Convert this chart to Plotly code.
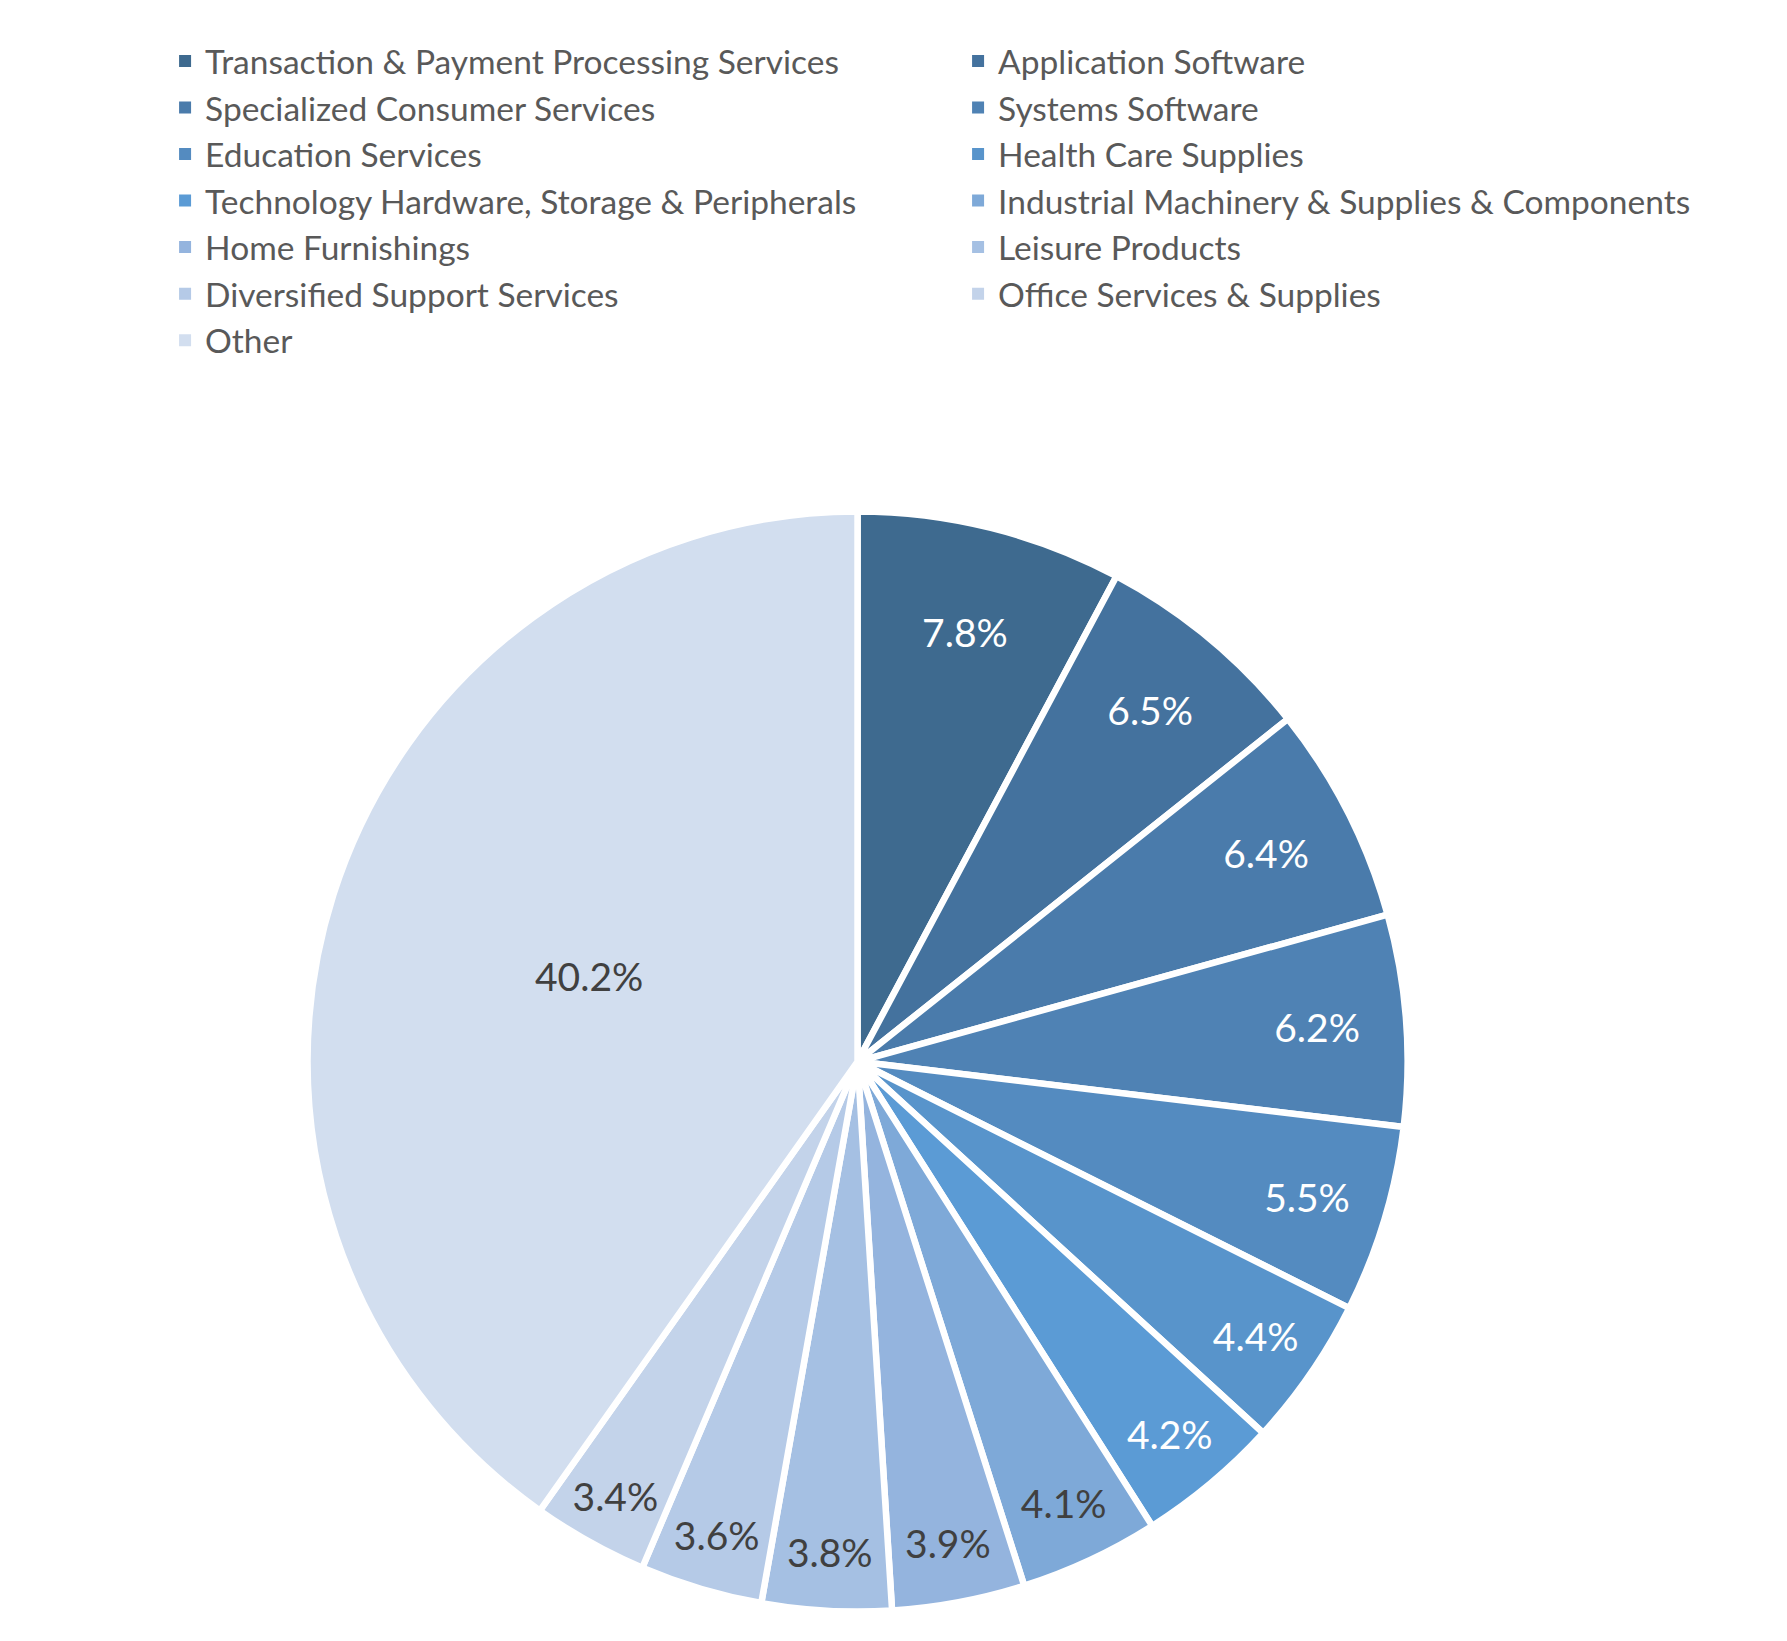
import plotly.graph_objects as go

# --- data ---
sectors = [
    "Transaction & Payment Processing Services",
    "Application Software",
    "Specialized Consumer Services",
    "Systems Software",
    "Education Services",
    "Health Care Supplies",
    "Technology Hardware, Storage & Peripherals",
    "Industrial Machinery & Supplies & Components",
    "Home Furnishings",
    "Leisure Products",
    "Diversified Support Services",
    "Office Services & Supplies",
    "Other",
]
weights = [7.8, 6.5, 6.4, 6.2, 5.5, 4.4, 4.2, 4.1, 3.9, 3.8, 3.6, 3.4, 40.2]

# blue shades, dark -> light
slice_colors = [
    "#3E6A8F", "#44729E", "#4A7BAB", "#4F82B4", "#548BC0", "#5894CB",
    "#5B9BD5", "#7EA9D8", "#94B4DE", "#A5C0E3", "#B5CAE7", "#C3D3EA",
    "#D2DEEF",
]
label_colors = ["white"] * 7 + ["#404040"] * 6

W, H = 1787, 1641


def main():
    fig = go.Figure()
    fig.add_trace(go.Pie(
        labels=sectors,
        values=weights,
        sort=False,
        direction="clockwise",
        rotation=0,
        marker=dict(colors=slice_colors, line=dict(color="white", width=6.5)),
        texttemplate="%{percent:.1%}",
        textposition="inside",
        insidetextorientation="horizontal",
        textfont=dict(family="Lato", size=39, color=label_colors),
        domain=dict(x=[0.1676, 0.7832], y=[0.0228, 0.6932]),
        hoverinfo="label+percent",
        showlegend=False,
    ))

    # legend entries (pie legend squares are tiny, so use square markers)
    for name, col in zip(sectors, slice_colors):
        fig.add_trace(go.Scatter(
            x=[None], y=[None], mode="markers", name=name,
            marker=dict(symbol="square", size=12, color=col),
            hoverinfo="skip",
        ))

    fig.update_layout(
        width=W, height=H,
        margin=dict(l=0, r=0, t=0, b=0),
        paper_bgcolor="white",
        plot_bgcolor="white",
        font=dict(family="Lato", color="#595959"),
        showlegend=True,
        xaxis=dict(visible=False),
        yaxis=dict(visible=False),
        legend=dict(
            orientation="h",
            x=0.0879, xanchor="left",
            y=0.985, yanchor="top",
            entrywidth=748,
            font=dict(family="Lato", size=33.5, color="#595959"),
            traceorder="normal",
            bgcolor="rgba(0,0,0,0)",
        ),
    )

    fig.write_html("out.html")


if __name__ == '__main__':
    main()
